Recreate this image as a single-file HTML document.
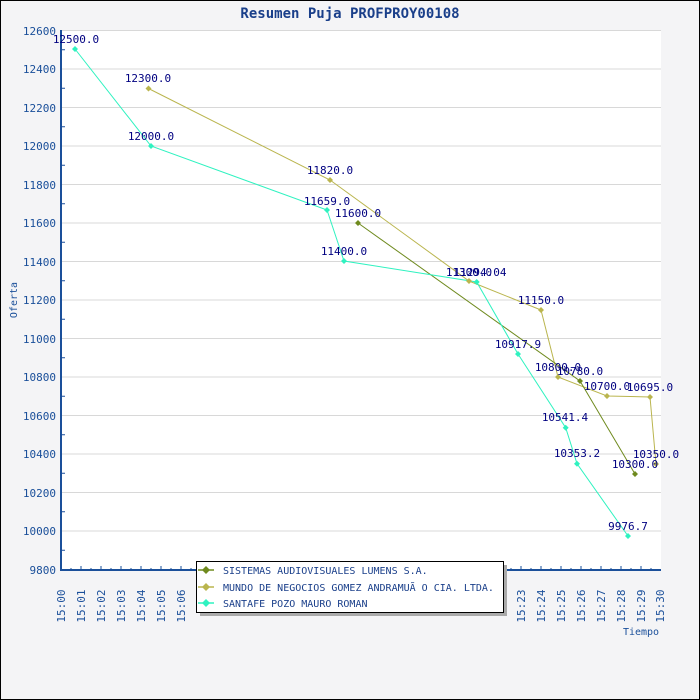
<!DOCTYPE html>
<html><head><meta charset="utf-8"><style>
body{margin:0;background:#fff}
svg{display:block}
text{font-family:"DejaVu Sans Mono","Liberation Mono",monospace}
</style></head><body>
<svg width="700" height="700" viewBox="0 0 700 700" xmlns="http://www.w3.org/2000/svg">
<rect x="0.5" y="0.5" width="699" height="699" fill="#f4f4f6" stroke="#000"/>
<text x="350" y="18" text-anchor="middle" font-size="14" font-weight="bold" fill="#1a3f8a">Resumen Puja PROFPROY00108</text>
<rect x="61" y="30" width="600" height="540" fill="#fff"/>
<g stroke="#d8d8d8" stroke-width="1">
<line x1="61" x2="661" y1="30.5" y2="30.5"/><line x1="61" x2="661" y1="69" y2="69"/><line x1="61" x2="661" y1="107.5" y2="107.5"/><line x1="61" x2="661" y1="146" y2="146"/><line x1="61" x2="661" y1="184.5" y2="184.5"/><line x1="61" x2="661" y1="223" y2="223"/><line x1="61" x2="661" y1="261.5" y2="261.5"/><line x1="61" x2="661" y1="300" y2="300"/><line x1="61" x2="661" y1="338.5" y2="338.5"/><line x1="61" x2="661" y1="377" y2="377"/><line x1="61" x2="661" y1="415.5" y2="415.5"/><line x1="61" x2="661" y1="454" y2="454"/><line x1="61" x2="661" y1="492.5" y2="492.5"/><line x1="61" x2="661" y1="531" y2="531"/>
</g>
<g font-size="11" fill="#1a4f9a" text-anchor="end">
<text x="56" y="35">12600</text><text x="56" y="73">12400</text><text x="56" y="112">12200</text><text x="56" y="150">12000</text><text x="56" y="189">11800</text><text x="56" y="227">11600</text><text x="56" y="266">11400</text><text x="56" y="304">11200</text><text x="56" y="343">11000</text><text x="56" y="381">10800</text><text x="56" y="420">10600</text><text x="56" y="458">10400</text><text x="56" y="497">10200</text><text x="56" y="535">10000</text><text x="56" y="574">9800</text>
</g>
<g stroke="#1a4f9a">
<line x1="61" y1="30" x2="61" y2="571" stroke-width="2"/>
<line x1="60" y1="570" x2="661" y2="570" stroke-width="2"/>
<path d="M61 49.75h4M61 88.25h4M61 126.75h4M61 165.25h4M61 203.75h4M61 242.25h4M61 280.75h4M61 319.25h4M61 357.75h4M61 396.25h4M61 434.75h4M61 473.25h4M61 511.75h4M61 550.25h4" stroke-width="1"/>
<path id="xt" d="M81 570v-4M101 570v-4M121 570v-4M141 570v-4M161 570v-4M181 570v-4M201 570v-4M221 570v-4M241 570v-4M261 570v-4M281 570v-4M301 570v-4M321 570v-4M341 570v-4M361 570v-4M381 570v-4M401 570v-4M421 570v-4M441 570v-4M461 570v-4M481 570v-4M501 570v-4M521 570v-4M541 570v-4M561 570v-4M581 570v-4M601 570v-4M621 570v-4M641 570v-4M71 570v-2M91 570v-2M111 570v-2M131 570v-2M151 570v-2M171 570v-2M191 570v-2M211 570v-2M231 570v-2M251 570v-2M271 570v-2M291 570v-2M311 570v-2M331 570v-2M351 570v-2M371 570v-2M391 570v-2M411 570v-2M431 570v-2M451 570v-2M471 570v-2M491 570v-2M511 570v-2M531 570v-2M551 570v-2M571 570v-2M591 570v-2M611 570v-2M631 570v-2M651 570v-2" stroke-width="1"/>
</g>
<g font-size="11" fill="#1a4f9a">
<text transform="translate(65,606) rotate(-90)" text-anchor="middle">15:00</text>
<text transform="translate(85,606) rotate(-90)" text-anchor="middle">15:01</text>
<text transform="translate(105,606) rotate(-90)" text-anchor="middle">15:02</text>
<text transform="translate(125,606) rotate(-90)" text-anchor="middle">15:03</text>
<text transform="translate(145,606) rotate(-90)" text-anchor="middle">15:04</text>
<text transform="translate(165,606) rotate(-90)" text-anchor="middle">15:05</text>
<text transform="translate(185,606) rotate(-90)" text-anchor="middle">15:06</text>
<text transform="translate(525,606) rotate(-90)" text-anchor="middle">15:23</text>
<text transform="translate(545,606) rotate(-90)" text-anchor="middle">15:24</text>
<text transform="translate(565,606) rotate(-90)" text-anchor="middle">15:25</text>
<text transform="translate(585,606) rotate(-90)" text-anchor="middle">15:26</text>
<text transform="translate(605,606) rotate(-90)" text-anchor="middle">15:27</text>
<text transform="translate(625,606) rotate(-90)" text-anchor="middle">15:28</text>
<text transform="translate(645,606) rotate(-90)" text-anchor="middle">15:29</text>
<text transform="translate(664,606) rotate(-90)" text-anchor="middle">15:30</text>
<text x="641" y="635" text-anchor="middle" font-size="10">Tiempo</text>
<text transform="translate(17,300) rotate(-90)" text-anchor="middle" font-size="10">Oferta</text>
</g>
<g fill="none" stroke-width="1">
<polyline stroke="#bab54e" points="148.5,88.5 330,180 469,281 541,310 558,377 607,396 650,397 656,464"/>
<polyline stroke="#6f8a1e" points="358,223 580,381 635,474"/>
<polyline stroke="#2ff2c0" points="75,49 151,146 327,210 344,261 476.7,282 518,354 565.7,427.7 577,463.7 628,536"/>
</g>
<g fill="#bab54e">
<path d="M148.5 85.5l3 3-3 3-3-3z M330 177l3 3-3 3-3-3z M469 278l3 3-3 3-3-3z M541 307l3 3-3 3-3-3z M558 374l3 3-3 3-3-3z M607 393l3 3-3 3-3-3z M650 394l3 3-3 3-3-3z M656 461l3 3-3 3-3-3z"/>
</g>
<g fill="#6f8a1e"><path d="M358 220l3 3-3 3-3-3z M580 378l3 3-3 3-3-3z M635 471l3 3-3 3-3-3z"/></g>
<g fill="#2ff2c0"><path d="M75 46l3 3-3 3-3-3z M151 143l3 3-3 3-3-3z M327 207l3 3-3 3-3-3z M344 258l3 3-3 3-3-3z M476.7 279l3 3-3 3-3-3z M518 351l3 3-3 3-3-3z M565.7 424.7l3 3-3 3-3-3z M577 460.7l3 3-3 3-3-3z M628 533l3 3-3 3-3-3z"/></g>
<g font-size="11" fill="#000080" text-anchor="middle">
<text x="76" y="43">12500.0</text><text x="148" y="82">12300.0</text><text x="151" y="140">12000.0</text>
<text x="330" y="174">11820.0</text><text x="327" y="205">11659.0</text><text x="358" y="217">11600.0</text><text x="344" y="255">11400.0</text>
<text x="469" y="276">11300.0</text><text x="480" y="276">11294.04</text><text x="541" y="304">11150.0</text><text x="518" y="348">10917.9</text>
<text x="558" y="371">10800.0</text><text x="580" y="375">10780.0</text><text x="607" y="390">10700.0</text><text x="650" y="391">10695.0</text>
<text x="565" y="421">10541.4</text><text x="577" y="457">10353.2</text><text x="656" y="458">10350.0</text><text x="635" y="468">10300.0</text><text x="628" y="530">9976.7</text>
</g>
<rect x="200" y="565" width="307" height="51" fill="#aaa"/>
<rect x="196.5" y="561.5" width="307" height="51" fill="#fff" stroke="#000"/>
<g stroke-width="1.5"><line x1="198" x2="214" y1="570" y2="570" stroke="#6f8a1e"/><line x1="198" x2="214" y1="587" y2="587" stroke="#bab54e"/><line x1="198" x2="214" y1="603" y2="603" stroke="#2ff2c0"/></g>
<path d="M206 566l4 4-4 4-4-4z" fill="#6f8a1e"/><path d="M206 583l4 4-4 4-4-4z" fill="#bab54e"/><path d="M206 599l4 4-4 4-4-4z" fill="#2ff2c0"/>
<g font-size="10" fill="#1a3f8a">
<text x="223" y="574">SISTEMAS AUDIOVISUALES LUMENS S.A.</text>
<text x="223" y="591">MUNDO DE NEGOCIOS GOMEZ ANDRAMUÃ O CIA. LTDA.</text>
<text x="223" y="607">SANTAFE POZO MAURO ROMAN</text>
</g>
</svg>
</body></html>
